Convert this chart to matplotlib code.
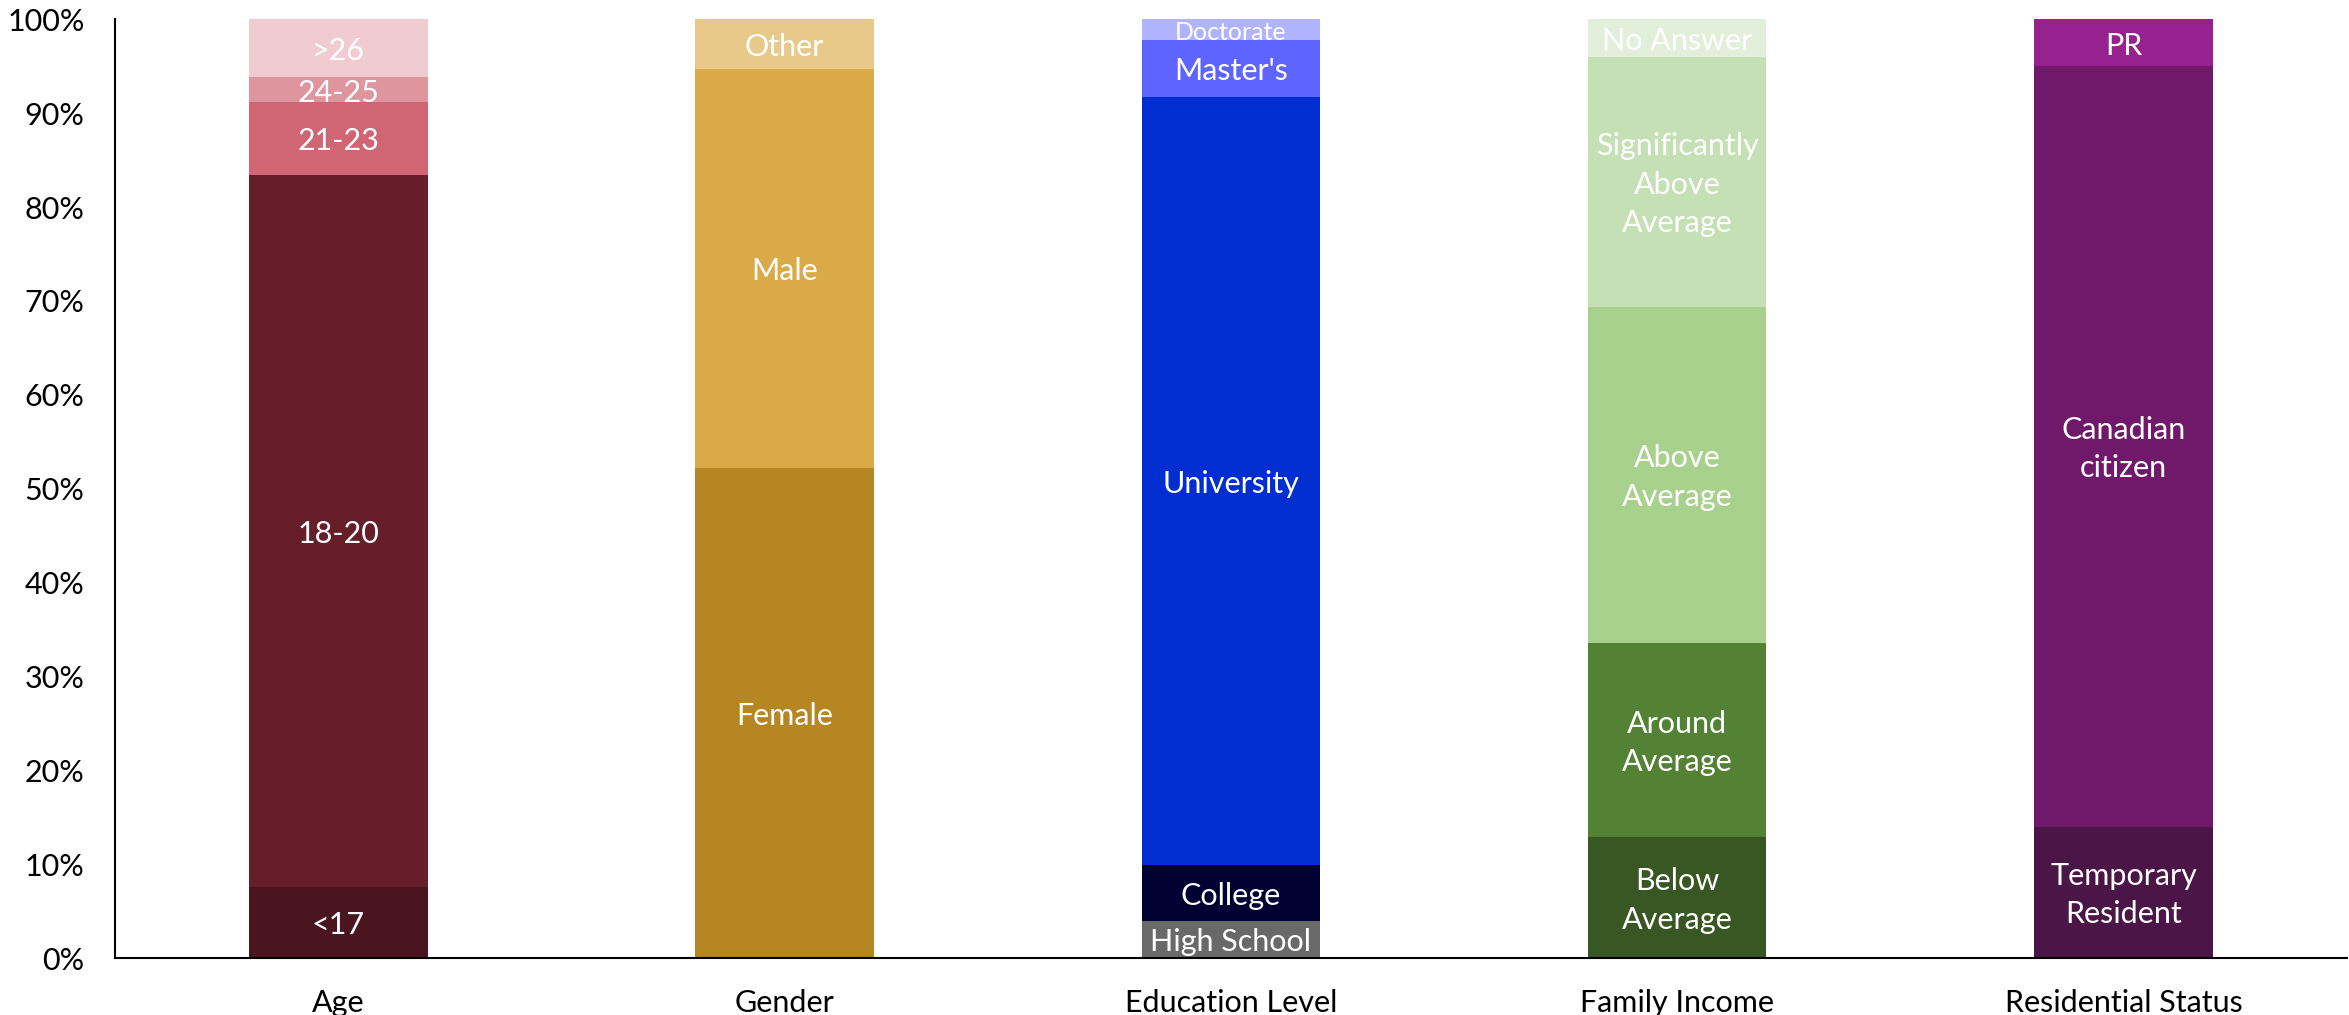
import numpy as np
import matplotlib.pyplot as plt

plt.rcParams['font.family'] = ['Lato', 'DejaVu Sans']

categories = ['Age', 'Gender', 'Education Level', 'Family Income', 'Residential Status']

# segment shares (%) for each category, bottom to top
age_labels = ['<17', '18-20', '21-23', '24-25', '>26']
age_values = [7.6, 75.8, 7.8, 2.6, 6.2]
age_colors = ['#4A151E', '#661F28', '#D06673', '#DF959E', '#F0CBD0']

gender_labels = ['Female', 'Male', 'Other']
gender_values = [52.2, 42.5, 5.3]
gender_colors = ['#B58621', '#DAAA48', '#E8C98A']

edu_labels = ['High School', 'College', 'University', "Master's", 'Doctorate']
edu_values = [4.0, 5.9, 81.8, 6.1, 2.2]
edu_colors = ['#696969', '#000033', '#002ED0', '#5E64FF', '#B0B3FF']

income_labels = ['Below\nAverage', 'Around\nAverage', 'Above\nAverage',
                 'Significantly\nAbove\nAverage', 'No Answer']
income_values = [12.9, 20.7, 35.8, 26.6, 4.0]
income_colors = ['#385723', '#548235', '#A9D18E', '#C5E0B4', '#E2EFDA']

res_labels = ['Temporary\nResident', 'Canadian\ncitizen', 'PR']
res_values = [14.0, 81.0, 5.0]
res_colors = ['#4B1548', '#70196B', '#97228F']

groups = [
    (age_labels, age_values, age_colors),
    (gender_labels, gender_values, gender_colors),
    (edu_labels, edu_values, edu_colors),
    (income_labels, income_values, income_colors),
    (res_labels, res_values, res_colors),
]

fig = plt.figure(figsize=(23.49, 10.15), dpi=100)
ax = fig.add_axes([0.049, 0.056, 0.95, 0.925])

bar_width = 0.4
for i, (labels, values, colors) in enumerate(groups):
    bottom = 0
    for lab, val, col in zip(labels, values, colors):
        ax.bar(i, val, bar_width, bottom=bottom, color=col, linewidth=0)
        size = 18 if lab == 'Doctorate' else 22
        ax.text(i, bottom + val / 2 - 0.3, lab, ha='center', va='center',
                color='white', fontsize=size, linespacing=1.45)
        bottom += val

ax.set_xlim(-0.5, 4.5)
ax.set_ylim(0, 100)
ax.set_yticks(np.arange(0, 101, 10))
ax.set_yticklabels(['%d%%' % v for v in range(0, 101, 10)])
ax.set_xticks(range(len(categories)))
ax.set_xticklabels(categories)
ax.tick_params(axis='both', length=0, labelsize=22)
ax.tick_params(axis='y', pad=22)
ax.tick_params(axis='x', pad=22)

for s in ['top', 'right']:
    ax.spines[s].set_visible(False)
ax.spines['left'].set_linewidth(1.5)
ax.spines['bottom'].set_linewidth(1.5)

plt.savefig('out.png', dpi=100)
